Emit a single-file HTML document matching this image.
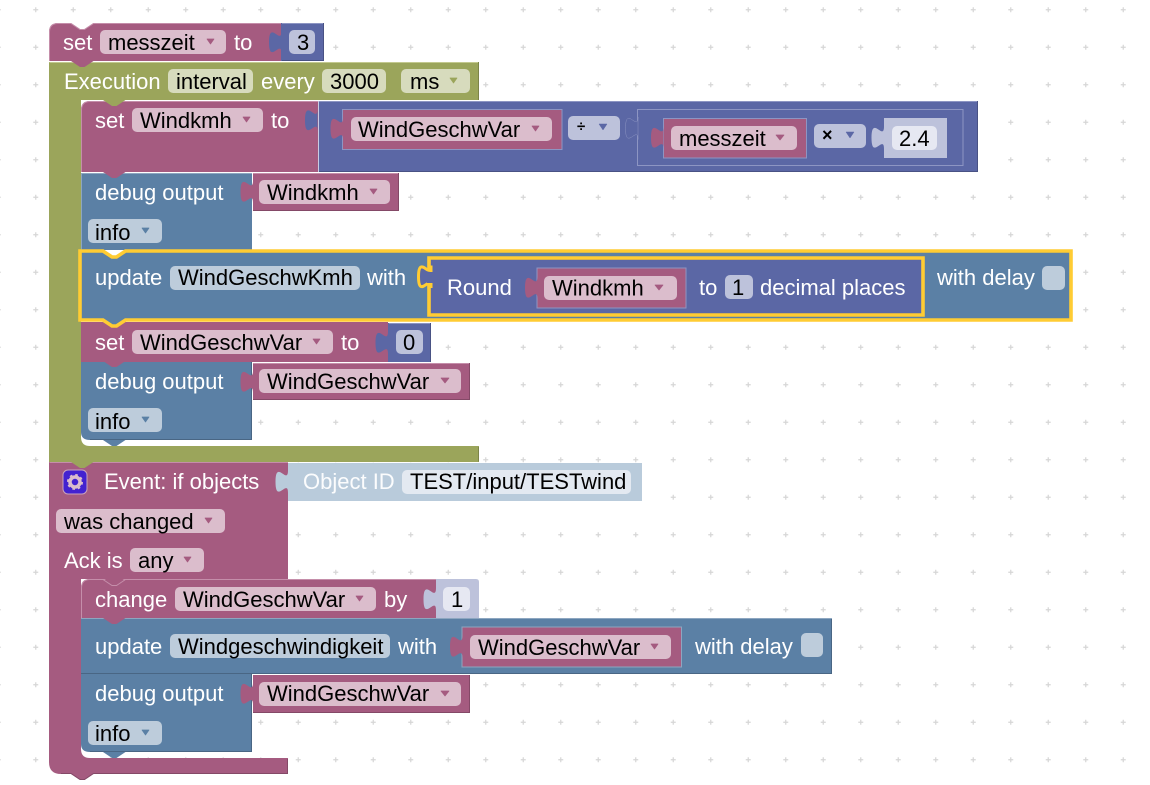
<!DOCTYPE html>
<html><head><meta charset="utf-8"><style>
html,body{margin:0;padding:0;background:#fff;width:1150px;height:785px;overflow:hidden}
svg{display:block}
text{font-family:"Liberation Sans",sans-serif;font-size:22px;fill:#000;white-space:pre}
text.w{fill:#fff}
.v{fill:#a55b80}.m{fill:#5b67a5}.b{fill:#5b80a5}.g{fill:#9ba55b}
polygon.v{stroke:#a55b80;stroke-width:.7;stroke-linejoin:round}
polygon.m{stroke:#5b67a5;stroke-width:.5;stroke-linejoin:round}
polygon.b{stroke:#5b80a5;stroke-width:.7;stroke-linejoin:round}
polygon.g{stroke:#9ba55b;stroke-width:.7;stroke-linejoin:round}
.fv{fill:#dbbdcc}.fm{fill:#bdc2db}.fb{fill:#bdccdb}.fg{fill:#d7dbbd}.fe{fill:#e6e8f2}.fo{fill:#e3e9f1}
.lv{stroke:#c58eaa;stroke-width:1;fill:none}.lm{stroke:#8d95c3;stroke-width:1;fill:none}.lb{stroke:#8da6c0;stroke-width:1;fill:none}.lg{stroke:#c3c98f;stroke-width:1;fill:none}
.dv{stroke:#844967;stroke-width:1;fill:none}.dm{stroke:#495284;stroke-width:1;fill:none}.db{stroke:#496684;stroke-width:1;fill:none}.dg{stroke:#7c8449;stroke-width:1;fill:none}
.y{fill:none;stroke:#fc3;stroke-width:3.6}
</style></head><body>
<svg width="1150" height="785" viewBox="0 0 1150 785" xmlns="http://www.w3.org/2000/svg">
<defs>
<pattern id="grid" patternUnits="userSpaceOnUse" x="17" y="-9" width="37.5" height="37.5">
<path d="M16.25 18.75h5M18.75 16.25v5" stroke="#d6d6d6" stroke-width="1.2"/>
</pattern>
<path id="t" d="M12.500 0 C12.500 15 0 -12 0 11.250 S12.500 7.500 12.500 22.500 Z"/>
<path id="n" d="M0 0 L9 6 H13.5 L22.5 0 Z"/>
</defs>
<rect width="1150" height="785" fill="url(#grid)"/>

<!-- Green execution -->
<path class="g" d="M49 62H479V100H81V437Q81 446 90 446H479V462H49Z"/>
<path class="lg" d="M49.5 62.5H478"/>
<path class="dg" d="M478.5 62V100M478.5 447V461.500"/>

<!-- set messzeit -->
<path class="v" d="M49 61V32Q49 23 58 23H71L80 29H84.500L93.500 23H281V61Z"/>
<path class="lv" d="M49.500 61V32Q49.500 23.500 58 23.500H71L80 29.500H84.500L93.500 23.500H281"/>
<rect class="m" x="281" y="23" width="43" height="38"/>
<path class="lm" d="M282 23.500H323"/><path class="dm" d="M323.500 23V61M282 60.500H324"/>
<use href="#t" x="269" y="31" class="m"/>
<use href="#n" x="71" y="61" class="v"/>
<rect class="fv" x="100" y="30" width="126" height="24" rx="5"/>
<polygon points="207,39 214,39 210.500,44" class="v"/>
<rect class="fm" x="289" y="30" width="26" height="24" rx="5"/>
<text class="w" x="63" y="50">set</text><text x="108" y="50">messzeit</text><text class="w" x="234" y="50">to</text><text x="297" y="50">3</text>

<rect class="fg" x="168" y="69" width="85" height="24" rx="5"/>
<rect class="fg" x="322" y="69" width="64" height="24" rx="5"/>
<rect class="fg" x="401" y="69" width="69" height="24" rx="5"/>
<polygon points="450,78 457,78 453.500,83" class="g"/>
<text class="w" x="64" y="89">Execution</text><text x="176" y="89">interval</text><text class="w" x="261" y="89">every</text><text x="330" y="89">3000</text><text x="410" y="89">ms</text>

<!-- set Windkmh -->
<path class="v" d="M81 172V110Q81 101 90 101H318V172Z"/>
<path class="lv" d="M81.500 172V110Q81.500 101.500 90 101.500H318"/>
<use href="#n" x="103" y="100" class="g"/>
<rect class="m" x="318" y="101" width="660" height="71"/>
<path class="lm" d="M318 101.500H978"/><path class="dm" d="M977.500 101V172M318 171.500H978"/>
<path d="M318.500 101V172" stroke="#c8cce4" fill="none"/>
<use href="#t" x="305" y="109" class="m"/>
<rect class="fv" x="132" y="108" width="131" height="24" rx="5"/>
<polygon points="243,117 250,117 246.500,122" class="v"/>
<text class="w" x="95" y="128">set</text><text x="140" y="128">Windkmh</text><text class="w" x="271" y="128">to</text>
<rect class="v" x="342.500" y="109.500" width="219.500" height="40" stroke="#8d95c3"/>
<use href="#t" x="330.500" y="117.500" class="v"/>
<rect class="fv" x="351" y="117" width="201" height="24" rx="5"/>
<polygon points="532,126 539,126 535.500,131" class="v"/>
<text x="358" y="137">WindGeschwVar</text>
<rect class="fm" x="568" y="116" width="52" height="24" rx="5"/>
<text x="577" y="131" style="font-size:15px;font-weight:bold">÷</text>
<polygon points="599,124 607,124 603,130" class="m"/>
<rect class="m" x="637.500" y="109.500" width="325.500" height="56" stroke="#8d95c3"/>
<use href="#t" x="625.500" y="117" class="m" stroke="#8d95c3" stroke-width=".5"/>
<rect class="v" x="663.500" y="118.500" width="143" height="39.500" stroke="#8d95c3"/>
<use href="#t" x="651" y="126.500" class="v"/>
<rect class="fv" x="671" y="126" width="126" height="24" rx="5"/>
<polygon points="776,135 784,135 780,140" class="v"/>
<text x="679" y="146">messzeit</text>
<rect class="fm" x="814" y="124" width="52" height="24" rx="5"/>
<text x="822" y="141" style="font-size:18px;font-weight:bold">×</text>
<polygon points="846,132 854,132 850,138" class="m"/>
<rect class="fm" x="884" y="118" width="63" height="40"/>
<use href="#t" x="871.500" y="126.500" class="fm"/>
<rect class="fe" x="892" y="126" width="45" height="24" rx="5"/>
<text x="899" y="146">2.4</text>

<!-- debug Windkmh -->
<rect class="b" x="81" y="173" width="171" height="77"/>
<path class="lb" d="M81.500 250V173.500H252"/>
<use href="#n" x="103" y="172" class="v"/>
<rect class="v" x="253" y="173" width="146" height="38"/>
<path class="lv" d="M253 173.500H398"/><path class="dv" d="M398.500 173V211M253 210.500H399"/>
<use href="#t" x="240.500" y="180.500" class="v"/>
<rect class="fv" x="259" y="180" width="131" height="24" rx="5"/>
<polygon points="370,189 377,189 373.500,194" class="v"/>
<text class="w" x="95" y="200">debug output</text><text x="267" y="200">Windkmh</text>
<rect class="fb" x="88" y="219" width="74" height="24" rx="5"/>
<polygon points="142,228 149,228 145.500,233" class="b"/>
<text x="95" y="240">info</text>

<!-- set WindGeschwVar, drawn below highlighted -->
<rect class="v" x="81" y="322" width="307" height="40"/>
<rect class="m" x="388" y="323" width="43" height="39"/>
<path class="lm" d="M389 323.500H430"/><path class="dm" d="M430.500 323V362"/>
<use href="#t" x="375.500" y="331.500" class="m"/>
<rect class="fv" x="132" y="330" width="201" height="24" rx="5"/>
<polygon points="313,339 320,339 316.500,344" class="v"/>
<rect class="fm" x="396" y="330" width="27" height="24" rx="5"/>
<text class="w" x="95" y="350">set</text><text x="140" y="350">WindGeschwVar</text><text class="w" x="341" y="350">to</text><text x="403" y="350">0</text>

<!-- update highlighted -->
<path class="b" d="M80 251H103L112 257H116.500L125.500 251H1071V320H125.500L116.500 326H112L103 320H80Z"/>
<path class="y" d="M80 251H103L112 257H116.500L125.500 251H1071V320H125.500L116.500 326H112L103 320H80Z"/>
<path class="m" d="M429 258H923V315H429Z"/>
<path d="M429 258H923V315H429Z" fill="none" stroke="#fc3" stroke-width="3.600"/>
<use href="#t" x="418.500" y="265.500" class="m" stroke="#fc3" stroke-width="3"/>
<rect class="m" x="427" y="272" width="6" height="11"/>
<rect class="fb" x="170" y="266" width="190" height="24" rx="5"/>
<text class="w" x="95" y="285">update</text><text x="178" y="285">WindGeschwKmh</text><text class="w" x="367" y="285">with</text>
<text class="w" x="447" y="295">Round</text>
<rect class="v" x="537" y="268" width="149" height="40" stroke="#8d95c3"/>
<use href="#t" x="525" y="276.500" class="v"/>
<rect class="fv" x="544" y="276" width="133" height="24" rx="5"/>
<polygon points="655,285 663,285 659,290" class="v"/>
<text x="552" y="295.500">Windkmh</text>
<text class="w" x="699" y="295">to</text>
<rect class="fm" x="725" y="275" width="28" height="24" rx="5"/>
<text x="732" y="295">1</text>
<text class="w" x="760" y="295">decimal places</text>
<text class="w" x="937" y="285">with delay</text>
<rect class="fb" x="1042" y="266" width="23" height="24" rx="5"/>

<!-- debug WindGeschwVar 1 -->
<path class="b" d="M81 362H252V440H90Q81 440 81 432Z"/>
<path class="db" d="M252 439.500H90M251.500 362V440"/>
<use href="#n" x="103" y="361" class="v"/>
<use href="#n" x="103" y="440" class="b"/>
<rect class="v" x="253" y="363" width="217" height="37"/>
<path class="lv" d="M253 363.500H469"/><path class="dv" d="M469.500 363V400M253 399.500H470"/>
<use href="#t" x="240.500" y="370.500" class="v"/>
<rect class="fv" x="259" y="369" width="202" height="24" rx="5"/>
<polygon points="441,378 449,378 445,383" class="v"/>
<text class="w" x="95" y="389">debug output</text><text x="267" y="389">WindGeschwVar</text>
<rect class="fb" x="88" y="408" width="74" height="24" rx="5"/>
<polygon points="142,417 149,417 145.500,422" class="b"/>
<text x="95" y="429">info</text>

<!-- Event -->
<path class="v" d="M49 462H288V579H81V749Q81 758 90 758H288V774H93.500L84.500 780H80L71 774H61Q49 774 49 762Z"/>
<path class="lv" d="M49.500 462.500H288"/>
<path class="dv" d="M287.500 759V774M288 773.500H93.500L84.500 779.500H80L71 773.500H61"/>
<use href="#n" x="71" y="462" class="g"/>
<rect x="63" y="470" width="24" height="24" rx="5" fill="#4322d0" stroke="#c9a3bb" stroke-width="1"/>
<circle cx="75" cy="482" r="5" fill="none" stroke="#dbbdcc" stroke-width="3.500"/>
<circle cx="75" cy="482" r="7" fill="none" stroke="#dbbdcc" stroke-width="2" stroke-dasharray="2.600 2.900"/>
<text class="w" x="104" y="489">Event: if objects</text>
<rect x="288" y="463" width="354" height="38" fill="#b9cbdb"/>
<use href="#t" x="275.500" y="470.500" fill="#b9cbdb"/>
<text x="303" y="489" style="fill:#fff;opacity:.95">Object ID</text>
<rect class="fo" x="402" y="470" width="229" height="24" rx="5"/>
<text x="410" y="489">TEST/input/TESTwind</text>
<rect class="fv" x="56" y="509" width="169" height="24" rx="5"/>
<polygon points="205,518 212,518 208.500,523" class="v"/>
<text x="64" y="529">was changed</text>
<text class="w" x="64" y="568">Ack is</text>
<rect class="fv" x="130" y="548" width="74" height="24" rx="5"/>
<polygon points="184,557 191,557 187.500,562" class="v"/>
<text x="138" y="568">any</text>

<!-- change -->
<path class="v" d="M81 618V588Q81 579 90 579H436V618Z"/>
<path class="lv" d="M81.500 618V588Q81.500 579.500 90 579.500H436"/>
<use href="#n" x="103" y="578" class="v"/>
<path d="M103 579.500L112 585.500H116.500L125.500 579.500" class="lv"/>
<path class="fm" d="M436 618V579H476Q479 579 479 582V618Z"/>
<use href="#t" x="423.500" y="588" class="fm"/>
<rect class="fv" x="175" y="587" width="201" height="24" rx="5"/>
<polygon points="356,596 363,596 359.500,601" class="v"/>
<rect class="fe" x="443" y="587" width="27" height="24" rx="5"/>
<text class="w" x="95" y="607">change</text><text x="183" y="607">WindGeschwVar</text><text class="w" x="384" y="607">by</text><text x="451" y="607">1</text>

<!-- update 2 -->
<rect class="b" x="81" y="618" width="751" height="56"/>
<path class="lb" d="M81 618.500H832"/><path class="db" d="M831.500 619V674M81 673.500H832"/>
<use href="#n" x="103" y="618" class="v"/>
<rect class="fb" x="170" y="634" width="220" height="24" rx="5"/>
<text class="w" x="95" y="654">update</text><text x="178" y="654">Windgeschwindigkeit</text><text class="w" x="398" y="654">with</text>
<rect class="v" x="462" y="627" width="219.500" height="40" stroke="#8da6c0"/>
<use href="#t" x="450" y="635.500" class="v"/>
<rect class="fv" x="470" y="635" width="201" height="24" rx="5"/>
<polygon points="651,644 658,644 654.500,649" class="v"/>
<text x="478" y="655">WindGeschwVar</text>
<text class="w" x="695" y="654">with delay</text>
<rect class="fb" x="801" y="633" width="22" height="24" rx="5"/>

<!-- debug 3 -->
<path class="b" d="M81 674H252V752H90Q81 752 81 744Z"/>
<path class="db" d="M252 751.500H90M251.500 674V752"/>
<use href="#n" x="103" y="674" class="b"/>
<use href="#n" x="103" y="752" class="b"/>
<rect class="v" x="253" y="675" width="217" height="38"/>
<path class="dv" d="M469.500 675V713M253 712.500H470"/>
<use href="#t" x="240.500" y="682.500" class="v"/>
<rect class="fv" x="259" y="682" width="202" height="24" rx="5"/>
<polygon points="441,691 449,691 445,696" class="v"/>
<text class="w" x="95" y="701">debug output</text><text x="267" y="701">WindGeschwVar</text>
<rect class="fb" x="88" y="721" width="74" height="24" rx="5"/>
<polygon points="142,730 149,730 145.500,735" class="b"/>
<text x="95" y="741">info</text>
</svg>
</body></html>
